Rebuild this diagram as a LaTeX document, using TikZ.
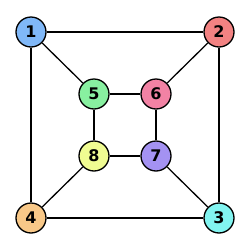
\documentclass[tikz,border=0pt]{standalone}
\usepackage{fontspec}
\setsansfont{DejaVu Sans}
\usepackage{xcolor}
\usepackage{tikz}
\definecolor{vblue}{HTML}{80B8F8}
\definecolor{vred}{HTML}{F28282}
\definecolor{vcyan}{HTML}{82F4F0}
\definecolor{vorange}{HTML}{F8C888}
\definecolor{vgreen}{HTML}{88F0A0}
\definecolor{vpink}{HTML}{F282A4}
\definecolor{vpurple}{HTML}{A492F2}
\definecolor{vyellow}{HTML}{F0FC92}
\tikzset{
  vertex/.style={circle,draw=black,line width=1.3pt,minimum size=30pt,inner sep=0pt,
    font=\sffamily\bfseries\fontsize{16}{16}\selectfont},
  edge/.style={line width=1.3pt,black}
}

\begin{document}
\begin{tikzpicture}[x=1pt,y=-1pt]
    \useasboundingbox (0,0) rectangle (250,250);
    \foreach \n/\x/\y/\c in {1/31/32/vblue,2/219/32/vred,3/219/218/vcyan,4/31/218/vorange,
      5/94/94/vgreen,6/156/94/vpink,7/156/156/vpurple,8/94/156/vyellow} {
      \node[vertex,fill=\c] (v\n) at (\x,\y) {\n};
    }
    \foreach \a/\b in {1/2,2/3,3/4,4/1,5/6,6/7,7/8,8/5,1/5,2/6,3/7,4/8} {
      \draw[edge] (v\a) -- (v\b);
    }
  \end{tikzpicture}
\end{document}
